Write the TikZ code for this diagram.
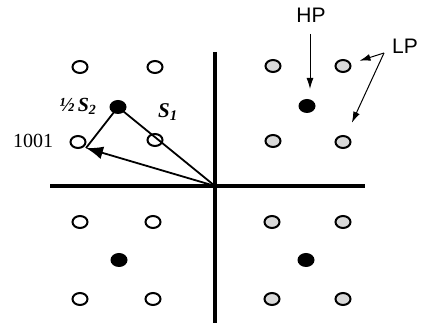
\documentclass[tikz,border=0pt]{standalone}
\usepackage{fontspec}
\setmainfont{Liberation Serif}
\newfontfamily\sansf{Liberation Sans}
\usetikzlibrary{arrows.meta,shapes.geometric}
\tikzset{
  wpt/.style={ellipse,draw,line width=2pt,fill=white,minimum width=15pt,minimum height=12pt,inner sep=0pt},
  gpt/.style={wpt,fill=gray!30},
  bpt/.style={ellipse,fill=black,minimum width=17pt,minimum height=14pt,inner sep=0pt},
  axis/.style={line width=3.5pt},
  vec/.style={line width=1.8pt},
  thin arrow/.style={line width=1pt,-{Latex[length=11pt,width=7pt]}},
  lbl/.style={inner sep=0pt}
}
\begin{document}
\begin{tikzpicture}[x=1pt,y=-1pt]
\useasboundingbox[fill=white] (0,0) rectangle (426,323);
% axes
\coordinate (vt) at (215,52);
\coordinate (vb) at (215,323);
\coordinate (hl) at (50,186);
\coordinate (hr) at (365,186);
\coordinate (O) at (215,186);
\draw[axis] (vt) -- (vb);
\draw[axis] (hl) -- (hr);
% upper-left
\node[wpt] (a1) at (80,67) {};
\node[wpt] (a2) at (155,67) {};
\node[wpt] (a3) at (78,142) {};
\node[wpt] (a4) at (155,140) {};
\node[bpt] (ab) at (118,107) {};
% upper-right
\node[gpt] (b1) at (273,66) {};
\node[gpt] (b2) at (343,66) {};
\node[gpt] (b3) at (273,141) {};
\node[gpt] (b4) at (343,142) {};
\node[bpt] (bb) at (307,106) {};
% lower-left
\node[wpt] (c1) at (80,222) {};
\node[wpt] (c2) at (153,222) {};
\node[wpt] (c3) at (80,299) {};
\node[wpt] (c4) at (153,299) {};
\node[bpt] (cb) at (119,260) {};
% lower-right
\node[gpt] (d1) at (272,222) {};
\node[gpt] (d2) at (343,222) {};
\node[gpt] (d3) at (272,299) {};
\node[gpt] (d4) at (343,299) {};
\node[bpt] (db) at (306,260) {};
% vectors
\coordinate (tip) at (86,148);
\draw[vec] (O) -- (ab.center);
\draw[vec] (ab.center) -- (tip);
\draw[vec,-{Latex[length=17pt,width=13pt]}] (O) -- (tip);
% labels
\node[lbl,font=\bfseries\itshape\fontsize{20}{20}\selectfont] (s2) at (78,106) {\textonehalf\,S\textsubscript{2}};
\node[lbl,font=\bfseries\itshape\fontsize{21}{21}\selectfont] (s1) at (168,112) {S\textsubscript{1}};
\node[lbl,font=\fontsize{20}{20}\selectfont] (n1001) at (33,141) {1001};
\node[lbl,font=\sansf\fontsize{21}{21}\selectfont] (HP) at (311,15) {HP};
\node[lbl,font=\sansf\fontsize{21}{21}\selectfont] (LP) at (405,46) {LP};
% HP / LP arrows
\coordinate (hps) at (310,34);
\coordinate (hpe) at (310,89);
\draw[thin arrow] (hps) -- (hpe);
\coordinate (lps) at (384,53);
\draw[thin arrow,shorten >=9pt] (lps) -- (b2);
\draw[thin arrow,shorten >=14pt] (lps) -- (b4);
\end{tikzpicture}
\end{document}
